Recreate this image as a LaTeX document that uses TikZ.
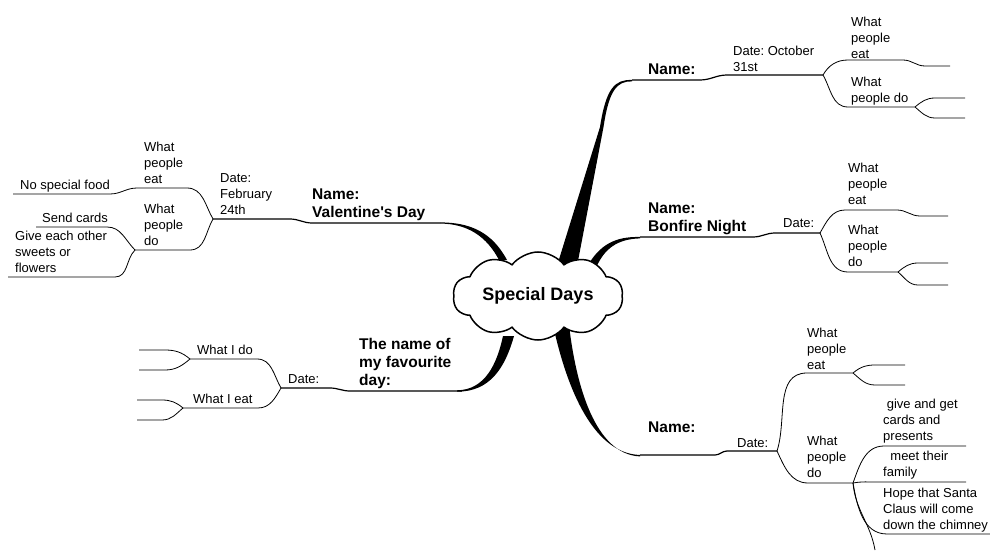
\documentclass[tikz,border=0pt]{standalone}
\usepackage{fontspec}
\setmainfont{Liberation Sans}
\frenchspacing
\usetikzlibrary{shapes.symbols,backgrounds}
\tikzset{%
  branche/.style={line width=0.8pt},%
  tronc/.style={line width=1.2pt},%
  texte/.style={font=\fontsize{13}{16}\selectfont, align=left, inner sep=0pt,%
    text depth=0pt, anchor=south west},%
  titre/.style={texte, font=\fontsize{15.5}{18}\selectfont\bfseries},%
}
\begin{document}
\begin{tikzpicture}[x=1pt,y=1pt,%
    show background rectangle,%
    tight background,%
    background rectangle/.style={fill=white}%
    ]
  \useasboundingbox (0,0) rectangle (990,550);%

  % Points des branches
  \coordinate (A0) at (632,470);%
  \coordinate (A1) at (700,470);%
  \coordinate (A2) at (727,475);%
  \coordinate (A3) at (823,475);%
  \coordinate (A4) at (848,490);%
  \coordinate (A5) at (903,490);%
  \coordinate (A6) at (925,484);%
  \coordinate (A7) at (950,484);%
  \coordinate (A8) at (848,443);%
  \coordinate (A9) at (915,443);%
  \coordinate (A10) at (935,452);%
  \coordinate (A11) at (965,452);%
  \coordinate (A12) at (935,432);%
  \coordinate (A13) at (965,432);%

  \coordinate (B0) at (640,313);%
  \coordinate (B1) at (753,313);%
  \coordinate (B2) at (775,317);%
  \coordinate (B3) at (820,317);%
  \coordinate (B4) at (845,340);%
  \coordinate (B5) at (897,340);%
  \coordinate (B6) at (920,334);%
  \coordinate (B7) at (948,334);%
  \coordinate (B8) at (848,278);%
  \coordinate (B9) at (898,278);%
  \coordinate (B10) at (918,287);%
  \coordinate (B11) at (948,287);%
  \coordinate (B12) at (918,265);%
  \coordinate (B13) at (948,265);%

  \coordinate (C0) at (640,95);%
  \coordinate (C1) at (715,95);%
  \coordinate (C2) at (727,99);%
  \coordinate (C3) at (777,99);%
  \coordinate (C4) at (807,177);%
  \coordinate (C5) at (853,177);%
  \coordinate (C6) at (875,185);%
  \coordinate (C7) at (905,185);%
  \coordinate (C8) at (875,165);%
  \coordinate (C9) at (905,165);%
  \coordinate (C10) at (808,67);%
  \coordinate (C11) at (853,67);%
  \coordinate (C12) at (884,104);%
  \coordinate (C13) at (966,104);%
  \coordinate (C14) at (877,68);%
  \coordinate (C15) at (966,68);%
  \coordinate (C16) at (887,16);%
  \coordinate (C17) at (990,16);%
  \coordinate (C18) at (875,0);%

  \coordinate (D0) at (440,327);%
  \coordinate (D1) at (312,327);%
  \coordinate (D2) at (290,331);%
  \coordinate (D3) at (213,331);%
  \coordinate (D4) at (187,362);%
  \coordinate (D5) at (137,362);%
  \coordinate (D6) at (110,356);%
  \coordinate (D7) at (13,356);%
  \coordinate (D8) at (190,300);%
  \coordinate (D9) at (135,300);%
  \coordinate (D10) at (107,323);%
  \coordinate (D11) at (36,323);%
  \coordinate (D12) at (115,273);%
  \coordinate (D13) at (8,273);%

  \coordinate (E0) at (462,159);%
  \coordinate (E1) at (350,159);%
  \coordinate (E2) at (330,162);%
  \coordinate (E3) at (281,162);%
  \coordinate (E4) at (257,191);%
  \coordinate (E5) at (190,191);%
  \coordinate (E6) at (165,200);%
  \coordinate (E7) at (139,200);%
  \coordinate (E8) at (165,180);%
  \coordinate (E9) at (139,180);%
  \coordinate (E10) at (258,142);%
  \coordinate (E11) at (183,142);%
  \coordinate (E12) at (162,150);%
  \coordinate (E13) at (137,150);%
  \coordinate (E14) at (162,130);%
  \coordinate (E15) at (137,130);%

  % Troncs epais
  \fill (552,268) -- (600,423) .. controls (606,462) and (615,470.7) .. (A0)%
    -- ++(0,-1.4) .. controls (617,469) and (609,460) .. (603.5,423) -- (574,268) -- cycle;%
  \fill (588,285) .. controls (600,305) and (615,313.7) .. (B0)%
    -- ++(0,-1.4) .. controls (617,311) and (604,301) .. (596,282) -- cycle;%
  \fill (553,225) .. controls (565,170) and (590,96.7) .. (C0)%
    -- ++(0,-1.4) .. controls (595,95.5) and (576,165) .. (569,225) -- cycle;%
  \fill (440,327.6) .. controls (470,327.6) and (492,318) .. (507,290)%
    -- (499,290) .. controls (487,313) and (468,326.4) .. (440,326.4) -- cycle;%
  \fill (457,159.7) .. controls (485,160) and (497,186) .. (503,214)%
    -- (514,214) .. controls (505,182) and (490,158.3) .. (457,158.3) -- cycle;%

  % Nuage central
  \node[cloud, cloud puffs=10, cloud puff arc=105, cloud ignores aspect, draw,%
    fill=white, line width=1.5pt, minimum width=170pt, minimum height=88pt,%
    inner sep=0pt, font=\fontsize{18}{20}\selectfont\bfseries]%
    (nuage) at (538,254) {Special Days};%

  % Lignes
  \draw[tronc] (A0) -- (A1) to[out=0,in=180] (A2) -- (A3);%
  \draw[branche] (A3) to[out=60,in=180] (A4) -- (A5) to[out=0,in=180] (A6) -- (A7);%
  \draw[branche] (A3) to[out=-60,in=180] (A8) -- (A9);%
  \draw[branche] (A9) to[out=40,in=180] (A10) -- (A11);%
  \draw[branche] (A9) to[out=-40,in=180] (A12) -- (A13);%

  \draw[tronc] (B0) -- (B1) to[out=0,in=180] (B2) -- (B3);%
  \draw[branche] (B3) to[out=60,in=180] (B4) -- (B5) to[out=0,in=180] (B6) -- (B7);%
  \draw[branche] (B3) to[out=-65,in=180] (B8) -- (B9);%
  \draw[branche] (B9) to[out=40,in=180] (B10) -- (B11);%
  \draw[branche] (B9) to[out=-40,in=180] (B12) -- (B13);%

  \draw[tronc] (C0) -- (C1) to[out=0,in=180] (C2) -- (C3);%
  \draw[branche] (C3) to[out=72,in=180] (C4) -- (C5);%
  \draw[branche] (C5) to[out=40,in=180] (C6) -- (C7);%
  \draw[branche] (C5) to[out=-40,in=180] (C8) -- (C9);%
  \draw[branche] (C3) to[out=-65,in=180] (C10) -- (C11);%
  \draw[branche] (C11) to[out=70,in=180] (C12) -- (C13);%
  \draw[branche] (C11) to[out=10,in=180] (C14) -- (C15);%
  \draw[branche] (C11) to[out=-80,in=180] (C16) -- (C17);%
  \draw[branche] (C11) to[out=-85,in=100] (C18);%

  \draw[tronc] (D0) -- (D1) to[out=180,in=0] (D2) -- (D3);%
  \draw[branche] (D3) to[out=120,in=0] (D4) -- (D5) to[out=180,in=0] (D6) -- (D7);%
  \draw[branche] (D3) to[out=240,in=0] (D8) -- (D9);%
  \draw[branche] (D9) to[out=135,in=0] (D10) -- (D11);%
  \draw[branche] (D9) to[out=225,in=0] (D12) -- (D13);%

  \draw[tronc] (E0) -- (E1) to[out=180,in=0] (E2) -- (E3);%
  \draw[branche] (E3) to[out=120,in=0] (E4) -- (E5);%
  \draw[branche] (E5) to[out=140,in=0] (E6) -- (E7);%
  \draw[branche] (E5) to[out=220,in=0] (E8) -- (E9);%
  \draw[branche] (E3) to[out=240,in=0] (E10) -- (E11);%
  \draw[branche] (E11) to[out=140,in=0] (E12) -- (E13);%
  \draw[branche] (E11) to[out=220,in=0] (E14) -- (E15);%

  % Textes
  \node[titre] (NA) at (648,475) {Name:};%
  \node[texte] (DA) at (733,478) {Date: October\\31st};%
  \node[texte] (EA) at (851,491.5) {What\\people\\eat};%
  \node[texte] (FA) at (851,447) {What\\people do};%

  \node[titre] (NB) at (648,318) {Name:\\Bonfire Night};%
  \node[texte] (DB) at (783,322) {Date:};%
  \node[texte] (EB) at (848,345) {What\\people\\eat};%
  \node[texte] (FB) at (848,283) {What\\people\\do};%

  \node[titre] (NC) at (648,117) {Name:};%
  \node[texte] (DC) at (737,102) {Date:};%
  \node[texte] (EC) at (807,180) {What\\people\\eat};%
  \node[texte] (FC) at (807,72) {What\\people\\do};%
  \node[texte] (GC) at (883,109) {\ give and get\\cards and\\presents};%
  \node[texte] (HC) at (883,73) {\ \ meet their\\family};%
  \node[texte] (IC) at (883,20) {Hope that Santa\\Claus will come\\down the chimney};%

  \node[titre] (ND) at (312,332) {Name:\\Valentine\textquotesingle s Day};%
  \node[texte] (DD) at (220,335) {Date:\\February\\24th};%
  \node[texte] (ED) at (144,366) {What\\people\\eat};%
  \node[texte] (FD) at (144,304) {What\\people\\do};%
  \node[texte] (RD) at (20,360) {No special food};%
  \node[texte] (SD) at (42,327) {Send cards};%
  \node[texte] (GD) at (15,277) {Give each other\\sweets or\\flowers};%

  \node[texte] (JE) at (197,195) {What I do};%
  \node[texte] (ME) at (193,146) {What I eat};%
  \node[texte] (DE) at (288,166) {Date:};%
  \node[titre] (NE) at (359,164) {The name of\\my favourite\\day:};%
\end{tikzpicture}
\end{document}
